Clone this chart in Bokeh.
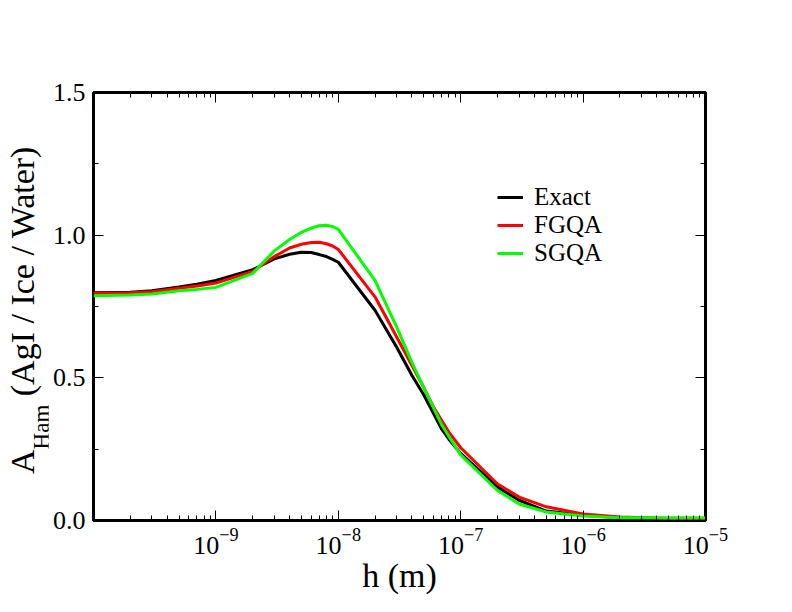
from bokeh.plotting import figure
from bokeh.layouts import row
from bokeh.models import (FixedTicker, LogAxis, LinearAxis, SingleIntervalTicker,
                          Legend, LegendItem, PrintfTickFormatter, Div)
from bokeh.embed import file_html
from bokeh.resources import INLINE

# separation h (m)
h = [1e-10, 2e-10, 3e-10, 5e-10, 7e-10, 1e-9, 2e-9, 3e-9, 4e-9, 5e-9, 6e-9, 7e-9,
     8e-9, 9e-9, 1e-8, 2e-8, 3e-8, 4e-8, 5e-8, 6e-8, 7e-8, 8e-8, 1e-7, 2e-7,
     3e-7, 5e-7, 1e-6, 2e-6, 5e-6, 1e-5]

exact = [0.798, 0.800, 0.805, 0.818, 0.828, 0.841, 0.879, 0.917, 0.933, 0.940, 0.939,
         0.932, 0.925, 0.915, 0.905, 0.736, 0.607, 0.508, 0.440, 0.375, 0.320, 0.285,
         0.235, 0.117, 0.071, 0.033, 0.018, 0.010, 0.006, 0.005]

fgqa = [0.796, 0.798, 0.802, 0.814, 0.822, 0.832, 0.873, 0.925, 0.955, 0.968, 0.974,
        0.975, 0.970, 0.962, 0.950, 0.783, 0.643, 0.543, 0.465, 0.398, 0.350, 0.310,
        0.255, 0.128, 0.082, 0.048, 0.023, 0.012, 0.007, 0.005]

sgqa = [0.788, 0.790, 0.794, 0.805, 0.810, 0.817, 0.866, 0.945, 0.985, 1.010, 1.025,
        1.033, 1.035, 1.030, 1.020, 0.841, 0.678, 0.553, 0.465, 0.395, 0.335, 0.295,
        0.230, 0.105, 0.058, 0.030, 0.016, 0.010, 0.010, 0.010]

series_names = ["Exact", "FGQA", "SGQA"]
series_colors = ["#000000", "#ff0000", "#00ff00"]

x_major = [1e-9, 1e-8, 1e-7, 1e-6, 1e-5]
x_minor = [m * 10.0 ** e for e in range(-10, -5) for m in range(2, 10)]

# y-axis title: main symbol, subscript, remainder
ytitle_main = "A"
ytitle_sub = "Ham"
ytitle_rest = "(AgI / Ice / Water)"

FONT = "Liberation Serif"
H = 612
LEFT_W = 48

p = figure(x_axis_type="log", x_range=(1e-10, 1e-5), y_range=(0, 1.5),
           frame_width=612, frame_height=428,
           min_border_left=93 - LEFT_W, min_border_top=92, min_border_right=79,
           min_border_bottom=H - 92 - 428,
           output_backend="svg", toolbar_location=None)

p.xgrid.grid_line_color = None
p.ygrid.grid_line_color = None
p.outline_line_color = "black"
p.outline_line_width = 3
p.outline_line_alpha = 1.0
p.background_fill_color = "white"
p.border_fill_color = "white"

renderers = []
for ys, c in zip([exact, fgqa, sgqa], series_colors):
    r = p.line(h, ys, line_color=c, line_width=3)
    renderers.append(r)

xt = FixedTicker(ticks=x_major, minor_ticks=x_minor)
yt = SingleIntervalTicker(interval=0.5, num_minor_ticks=2)

def style(ax):
    ax.axis_line_color = None
    ax.major_tick_in = 10
    ax.major_tick_out = 0
    ax.minor_tick_in = 5
    ax.minor_tick_out = 0
    ax.major_tick_line_color = "black"
    ax.minor_tick_line_color = "black"
    ax.major_tick_line_width = 1
    ax.minor_tick_line_width = 1
    ax.major_label_text_font = FONT
    ax.major_label_text_font_size = "26px"
    ax.major_label_text_color = "black"

xa = p.xaxis[0]
xa.ticker = xt
style(xa)
xa.major_label_standoff = 8
xa.axis_label = "h (m)"
xa.axis_label_text_font = FONT
xa.axis_label_text_font_size = "34px"
xa.axis_label_text_font_style = "normal"
xa.axis_label_text_color = "black"
xa.axis_label_standoff = 0

ya = p.yaxis[0]
ya.ticker = yt
ya.formatter = PrintfTickFormatter(format="%.1f")
style(ya)
ya.major_label_standoff = 8

top = LogAxis(ticker=xt)
style(top)
top.major_label_text_color = None
p.add_layout(top, "above")

right = LinearAxis(ticker=yt)
style(right)
right.major_label_text_color = None
p.add_layout(right, "right")

legend = Legend(items=[LegendItem(label=n, renderers=[r]) for n, r in zip(series_names, renderers)],
                location=(404, 253), border_line_color=None, background_fill_alpha=0,
                label_text_font=FONT, label_text_font_size="25px", label_text_color="black",
                glyph_width=26, glyph_height=20, label_standoff=11, padding=0, spacing=0,
                margin=0)
p.add_layout(legend)

# rotated y-axis title with a real subscript, as HTML text
title_html = (
    '<div style="position:relative;width:%dpx;height:%dpx;overflow:visible;">'
    '<div style="position:absolute;left:6px;top:474px;transform:rotate(-90deg);'
    'transform-origin:0 0;white-space:nowrap;font-family:\'Liberation Serif\',serif;'
    'font-size:34px;line-height:34px;color:#000000;">'
    '%s<span style="font-size:23px;position:relative;top:15px;">%s</span> %s'
    '</div></div>' % (LEFT_W, H, ytitle_main, ytitle_sub, ytitle_rest)
)
ytitle = Div(text=title_html, width=LEFT_W, height=H, margin=0)

layout = row(ytitle, p, spacing=0)

open("out.html", "w").write(file_html(layout, INLINE))
